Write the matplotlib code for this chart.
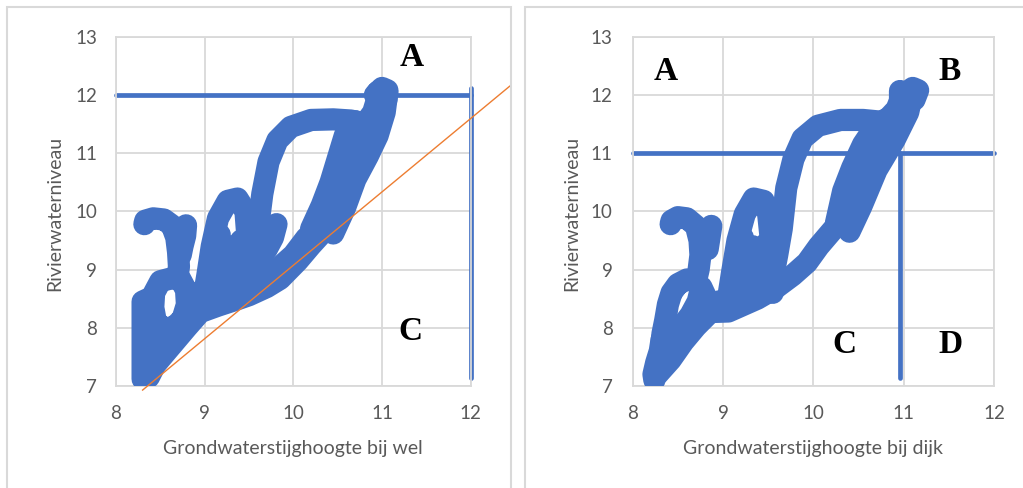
import matplotlib
matplotlib.use("Agg")
import matplotlib.pyplot as plt
from matplotlib.patches import Rectangle

# ---------------- data ----------------
# Left panel: Grondwaterstijghoogte bij wel (x) vs Rivierwaterniveau (y)
wel_hook_x = [8.32, 8.33, 8.42, 8.54, 8.63, 8.68, 8.70, 8.71, 8.69]
wel_hook_y = [9.78, 9.84, 9.88, 9.86, 9.76, 9.55, 9.30, 9.05, 8.85]
wel_stub_x = [8.79, 8.78, 8.75, 8.73]
wel_stub_y = [9.76, 9.58, 9.40, 9.25]
wel_ring_x = [8.69, 8.60, 8.50, 8.43, 8.42, 8.45, 8.55, 8.66, 8.75, 8.80, 8.79, 8.72]
wel_ring_y = [8.85, 8.84, 8.80, 8.60, 8.35, 8.10, 7.98, 8.02, 8.15, 8.40, 8.65, 8.85]
wel_col_x = [8.30, 8.30, 8.37, 8.37, 8.42, 8.42]
wel_col_y = [7.12, 8.45, 8.50, 7.15, 7.30, 8.10]
wel_band_x = [8.34, 8.50, 8.65, 8.80, 8.95, 9.15, 9.35, 9.50, 9.70, 9.85, 10.05, 10.20, 10.32]
wel_band_y = [7.18, 7.47, 7.74, 8.01, 8.27, 8.38, 8.48, 8.56, 8.70, 8.84, 9.15, 9.42, 9.62]
wel_band2_x = [8.40, 8.55, 8.70, 8.85, 8.95, 9.10, 9.40, 9.60, 9.80, 10.00, 10.15]
wel_band2_y = [7.65, 7.85, 8.05, 8.30, 8.48, 8.58, 8.65, 8.82, 8.98, 9.25, 9.55]
wel_band3_x = [8.85, 8.92, 9.00]
wel_band3_y = [8.55, 8.60, 8.65]
wel_arch_x = [8.97, 9.03, 9.08, 9.15, 9.26, 9.37, 9.46, 9.48, 9.50, 9.52]
wel_arch_y = [8.35, 8.90, 9.40, 9.88, 10.18, 10.22, 10.00, 9.60, 9.10, 8.60]
wel_fill1_x = [9.08, 9.12, 9.17]
wel_fill1_y = [8.45, 9.00, 9.60]
wel_fill2_x = [9.22, 9.27, 9.30]
wel_fill2_y = [8.45, 8.90, 9.40]
wel_fill3_x = [9.36, 9.39, 9.41]
wel_fill3_y = [8.50, 9.00, 9.50]
wel_loop_x = [9.52, 9.56, 9.60, 9.65, 9.72, 9.82, 9.97, 10.20, 10.45, 10.65, 10.80]
wel_loop_y = [8.70, 9.20, 9.70, 10.30, 10.85, 11.22, 11.45, 11.57, 11.58, 11.56, 11.50]
wel_tail_x = [9.81, 9.77, 9.70, 9.62]
wel_tail_y = [9.78, 9.55, 9.35, 9.20]
wel_r0_x = [10.20, 10.32, 10.42, 10.50, 10.58, 10.70]
wel_r0_y = [9.70, 10.10, 10.50, 10.90, 11.30, 11.55]
wel_r1_x = [10.25, 10.35, 10.45, 10.55, 10.65, 10.78, 10.90, 10.97]
wel_r1_y = [9.65, 9.95, 10.35, 10.75, 11.15, 11.45, 11.70, 12.05]
wel_r2_x = [10.35, 10.45, 10.55, 10.67, 10.80, 10.92, 11.00]
wel_r2_y = [9.65, 10.00, 10.40, 10.85, 11.25, 11.60, 12.00]
wel_r3_x = [10.45, 10.58, 10.70, 10.84, 10.95, 11.03, 11.06]
wel_r3_y = [9.62, 10.05, 10.55, 10.95, 11.30, 11.70, 12.05]
wel_top_x = [10.92, 11.00, 11.06, 11.05, 10.97, 10.95]
wel_top_y = [12.00, 12.12, 12.08, 11.92, 11.85, 12.05]

# Right panel: Grondwaterstijghoogte bij dijk (x) vs Rivierwaterniveau (y)
dijk_hook_x = [8.42, 8.43, 8.50, 8.60, 8.70, 8.74, 8.75, 8.73, 8.70]
dijk_hook_y = [9.78, 9.84, 9.90, 9.88, 9.75, 9.50, 9.25, 9.00, 8.80]
dijk_stub_x = [8.87, 8.85, 8.83]
dijk_stub_y = [9.75, 9.55, 9.35]
dijk_ring_x = [8.70, 8.60, 8.50, 8.43, 8.39, 8.36, 8.33, 8.32]
dijk_ring_y = [8.80, 8.83, 8.75, 8.60, 8.40, 8.13, 7.90, 7.75]
dijk_ring2_x = [8.36, 8.52, 8.64, 8.72, 8.76, 8.82, 8.84]
dijk_ring2_y = [7.82, 7.98, 8.22, 8.45, 8.70, 8.50, 8.25]
dijk_tail_x = [8.32, 8.30, 8.26, 8.23, 8.24]
dijk_tail_y = [7.80, 7.60, 7.40, 7.20, 7.10]
dijk_band_x = [8.27, 8.42, 8.56, 8.70, 8.86, 9.06, 9.38, 9.58, 9.77, 9.93, 10.06, 10.28]
dijk_band_y = [7.19, 7.45, 7.76, 8.02, 8.27, 8.28, 8.50, 8.68, 8.90, 9.12, 9.40, 9.80]
dijk_band2_x = [8.80, 8.95, 9.10, 9.40, 9.60]
dijk_band2_y = [8.25, 8.45, 8.50, 8.70, 8.85]
dijk_arch_x = [9.05, 9.10, 9.16, 9.24, 9.34, 9.45, 9.50, 9.53, 9.55, 9.55]
dijk_arch_y = [8.45, 8.95, 9.50, 9.95, 10.22, 10.18, 9.95, 9.50, 9.00, 8.60]
dijk_fill1_x = [9.12, 9.18, 9.22]
dijk_fill1_y = [8.45, 9.10, 9.55]
dijk_fill2_x = [9.28, 9.31, 9.33]
dijk_fill2_y = [8.50, 9.00, 9.40]
dijk_fill3_x = [9.42, 9.45, 9.48]
dijk_fill3_y = [8.55, 9.10, 9.45]
dijk_loop_x = [9.55, 9.60, 9.65, 9.70, 9.78, 9.88, 10.05, 10.30, 10.55, 10.75, 10.88]
dijk_loop_y = [8.85, 9.25, 9.70, 10.40, 10.90, 11.25, 11.47, 11.57, 11.57, 11.54, 11.50]
dijk_r0_x = [10.25, 10.33, 10.43, 10.55, 10.68, 10.80]
dijk_r0_y = [9.80, 10.35, 10.75, 11.15, 11.45, 11.58]
dijk_r1_x = [10.30, 10.40, 10.50, 10.65, 10.80, 10.92, 11.00]
dijk_r1_y = [9.80, 10.42, 10.77, 11.23, 11.55, 11.75, 12.05]
dijk_r2_x = [10.38, 10.48, 10.62, 10.80, 10.96, 11.06]
dijk_r2_y = [9.70, 10.25, 10.74, 11.23, 11.65, 12.00]
dijk_r3_x = [10.40, 10.53, 10.70, 10.90, 11.05, 11.10]
dijk_r3_y = [9.65, 10.08, 10.71, 11.23, 11.70, 12.05]
dijk_top_x = [11.00, 11.10, 11.16, 11.12, 11.05]
dijk_top_y = [12.00, 12.12, 12.08, 11.92, 11.85]
dijk_spike_x = [10.96, 10.96]
dijk_spike_y = [11.80, 12.07]

# reference lines
wel_hline_x, wel_hline_y = [8, 12], [12, 12]
wel_vline_x, wel_vline_y = [12, 12], [12.12, 7.13]
wel_trend_x, wel_trend_y = [8.30, 12.44], [6.93, 12.15]
dijk_hline_x, dijk_hline_y = [8, 12], [11, 11]
dijk_vline_x, dijk_vline_y = [10.96, 10.96], [11.0, 7.13]

wel_letters = ["A", "C"]
wel_letter_x = [11.33, 11.32]
wel_letter_y = [12.64, 7.94]
dijk_letters = ["A", "B", "C", "D"]
dijk_letter_x = [8.37, 11.51, 10.34, 11.52]
dijk_letter_y = [12.41, 12.41, 7.71, 7.71]

x_ticks = [8, 9, 10, 11, 12]
y_ticks = [7, 8, 9, 10, 11, 12, 13]
y_label = "Rivierwaterniveau"
x_label_wel = "Grondwaterstijghoogte bij wel"
x_label_dijk = "Grondwaterstijghoogte bij dijk"

# ---------------- styling ----------------
BLUE = "#4472C4"
ORANGE = "#ED7D31"
GRID = "#D9D9D9"
TXT = "#595959"

W, H = 1023, 488
fig = plt.figure(figsize=(W / 100, H / 100), dpi=100)

# panel frames
fig.add_artist(Rectangle((7 / W, -0.05), (511 - 7) / W, 1 - 7 / H + 0.05,
                         transform=fig.transFigure, fill=False,
                         edgecolor=GRID, lw=1.5))
fig.add_artist(Rectangle((525 / W, -0.05), 1.0, 1 - 7 / H + 0.05,
                         transform=fig.transFigure, fill=False,
                         edgecolor=GRID, lw=1.5))

ax1 = fig.add_axes([116 / W, 1 - 386 / H, (470.7 - 116) / W, (386 - 36.7) / H])
ax2 = fig.add_axes([632.7 / W, 1 - 386 / H, (994 - 632.7) / W, (386 - 36.7) / H])

STROKE = dict(color=BLUE, lw=16, solid_capstyle="round",
              solid_joinstyle="round", zorder=3)

wel_paths = [
    (wel_hook_x, wel_hook_y), (wel_stub_x, wel_stub_y), (wel_ring_x, wel_ring_y),
    (wel_col_x, wel_col_y), (wel_band_x, wel_band_y), (wel_band2_x, wel_band2_y),
    (wel_band3_x, wel_band3_y),
    (wel_arch_x, wel_arch_y), (wel_fill1_x, wel_fill1_y), (wel_fill2_x, wel_fill2_y),
    (wel_fill3_x, wel_fill3_y), (wel_loop_x, wel_loop_y), (wel_tail_x, wel_tail_y),
    (wel_r0_x, wel_r0_y), (wel_r1_x, wel_r1_y), (wel_r2_x, wel_r2_y),
    (wel_r3_x, wel_r3_y), (wel_top_x, wel_top_y),
]
dijk_paths = [
    (dijk_hook_x, dijk_hook_y), (dijk_stub_x, dijk_stub_y), (dijk_ring_x, dijk_ring_y),
    (dijk_ring2_x, dijk_ring2_y), (dijk_tail_x, dijk_tail_y), (dijk_band_x, dijk_band_y),
    (dijk_band2_x, dijk_band2_y),
    (dijk_arch_x, dijk_arch_y), (dijk_fill1_x, dijk_fill1_y), (dijk_fill2_x, dijk_fill2_y),
    (dijk_fill3_x, dijk_fill3_y), (dijk_loop_x, dijk_loop_y), (dijk_r0_x, dijk_r0_y),
    (dijk_r1_x, dijk_r1_y), (dijk_r2_x, dijk_r2_y), (dijk_r3_x, dijk_r3_y),
    (dijk_top_x, dijk_top_y), (dijk_spike_x, dijk_spike_y),
]

for ax, paths, xlabel, ypad, ylab_x in [
        (ax1, wel_paths, x_label_wel, 13.5, -0.172),
        (ax2, dijk_paths, x_label_dijk, 14.5, -0.168)]:
    ax.set_xlim(8, 12)
    ax.set_ylim(7, 13)
    ax.set_xticks(x_ticks)
    ax.set_yticks(y_ticks)
    ax.grid(True, color=GRID, lw=1.3)
    ax.set_axisbelow(True)
    for s in ax.spines.values():
        s.set_color(GRID)
        s.set_linewidth(1.3)
    ax.tick_params(length=0, labelsize=13.5, labelcolor=TXT)
    ax.tick_params(axis="y", pad=ypad)
    ax.tick_params(axis="x", pad=14)
    for lab in ax.get_xticklabels() + ax.get_yticklabels():
        lab.set_family("Lato")
    for px, py in paths:
        ax.plot(px, py, **STROKE)
    ax.set_xlabel(xlabel, fontsize=14, color=TXT, family="Lato")
    ax.set_ylabel(y_label, fontsize=14, color=TXT, family="Lato")
    ax.xaxis.set_label_coords(0.5, -0.195)
    ax.xaxis.label.set_va("baseline")
    ax.yaxis.set_label_coords(ylab_x, 0.494)
    ax.yaxis.label.set_va("center")

LINE = dict(color=BLUE, lw=3.4, solid_capstyle="round", zorder=2.5, clip_on=False)
ax1.plot(wel_hline_x, wel_hline_y, **LINE)
ax1.plot(wel_vline_x, wel_vline_y, **LINE)
ax1.plot(wel_trend_x, wel_trend_y, color=ORANGE, lw=1.0, zorder=5, clip_on=False)
ax2.plot(dijk_hline_x, dijk_hline_y, **LINE)
ax2.plot(dijk_vline_x, dijk_vline_y, **LINE)

LET = dict(fontsize=24, fontweight="bold", family="Liberation Serif",
           ha="center", va="center", color="black", zorder=6)
for t, x, y in zip(wel_letters, wel_letter_x, wel_letter_y):
    ax1.text(x, y, t, **LET)
for t, x, y in zip(dijk_letters, dijk_letter_x, dijk_letter_y):
    ax2.text(x, y, t, **LET)

fig.savefig("out.png", dpi=100)
